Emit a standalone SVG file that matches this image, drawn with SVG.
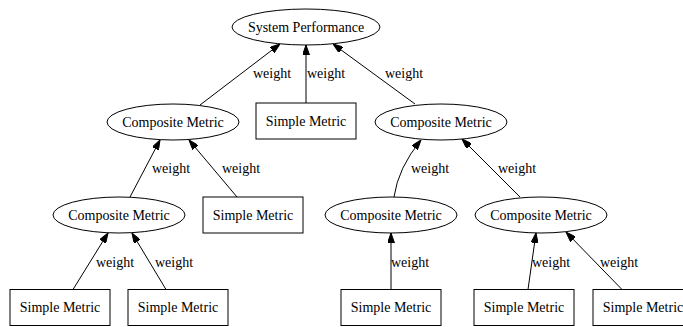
<svg xmlns="http://www.w3.org/2000/svg" width="683" height="327" viewBox="0 0 683 327" font-family="'Liberation Serif', 'DejaVu Serif', serif" font-size="14">
<style>
text{font-family:'Liberation Serif','DejaVu Serif',serif;font-size:14px;fill:#000}
.n{text-anchor:middle}
.shape{fill:#fff;stroke:#000;stroke-width:1}
.e{fill:none;stroke:#000;stroke-width:1;marker-end:url(#ah)}
</style>
<defs>
<marker id="ah" viewBox="0 0 10 7" refX="10" refY="3.5" markerWidth="10" markerHeight="7" markerUnits="userSpaceOnUse" orient="auto">
<path d="M0,0 L10,3.5 L0,7 z" fill="#000" stroke="#000" stroke-width="1"/>
</marker>
</defs>
<rect width="683" height="327" fill="#fff"/>
<g id="edges">
<path class="e" d="M200,105 L280,44"/>
<path class="e" d="M306,103 L306,45"/>
<path class="e" d="M415,104 L333,44"/>
<path class="e" d="M130,197 L160,140"/>
<path class="e" d="M237,197 L189,140"/>
<path class="e" d="M73,289.5 L108,233"/>
<path class="e" d="M166,289.5 L132,233"/>
<path class="e" d="M394,197 Q398,168 421,140"/>
<path class="e" d="M520,197 L462,139"/>
<path class="e" d="M391,289.5 L391,233"/>
<path class="e" d="M528,289.5 L536,233"/>
<path class="e" d="M622,289.5 L566,232"/>
<text x="253" y="78">weight</text>
<text x="307" y="78">weight</text>
<text x="385" y="78">weight</text>
<text x="152" y="173">weight</text>
<text x="222" y="173">weight</text>
<text x="96" y="267">weight</text>
<text x="155" y="267">weight</text>
<text x="411" y="173">weight</text>
<text x="498" y="173">weight</text>
<text x="391" y="267">weight</text>
<text x="532" y="267">weight</text>
<text x="600" y="267">weight</text>
</g>
<g id="root"><ellipse class="shape" cx="306" cy="27" rx="74" ry="18"/><text class="n" x="306" y="32">System Performance</text></g>
<g id="comp_l1"><ellipse class="shape" cx="173" cy="122" rx="66" ry="18"/><text class="n" x="173" y="127">Composite Metric</text></g>
<g id="simple_top"><rect class="shape" x="256" y="103" width="100" height="36"/><text class="n" x="306" y="126">Simple Metric</text></g>
<g id="comp_r1"><ellipse class="shape" cx="441" cy="122" rx="66" ry="18"/><text class="n" x="441" y="127">Composite Metric</text></g>
<g id="comp_l2"><ellipse class="shape" cx="119" cy="215" rx="66" ry="18"/><text class="n" x="119" y="220">Composite Metric</text></g>
<g id="simple_l2"><rect class="shape" x="203" y="197" width="100" height="36"/><text class="n" x="253" y="220">Simple Metric</text></g>
<g id="comp_ra"><ellipse class="shape" cx="391" cy="215" rx="66" ry="18"/><text class="n" x="391" y="220">Composite Metric</text></g>
<g id="comp_rb"><ellipse class="shape" cx="541" cy="215" rx="66" ry="18"/><text class="n" x="541" y="220">Composite Metric</text></g>
<g id="simple_l3a"><rect class="shape" x="10" y="289.5" width="100" height="36"/><text class="n" x="60" y="312">Simple Metric</text></g>
<g id="simple_l3b"><rect class="shape" x="128" y="289.5" width="100" height="36"/><text class="n" x="178" y="312">Simple Metric</text></g>
<g id="simple_r3a"><rect class="shape" x="341" y="289.5" width="100" height="36"/><text class="n" x="391" y="312">Simple Metric</text></g>
<g id="simple_r3b"><rect class="shape" x="474" y="289.5" width="100" height="36"/><text class="n" x="524" y="312">Simple Metric</text></g>
<g id="simple_r3c"><rect class="shape" x="593" y="289.5" width="100" height="36"/><text class="n" x="643" y="312">Simple Metric</text></g>
</svg>
